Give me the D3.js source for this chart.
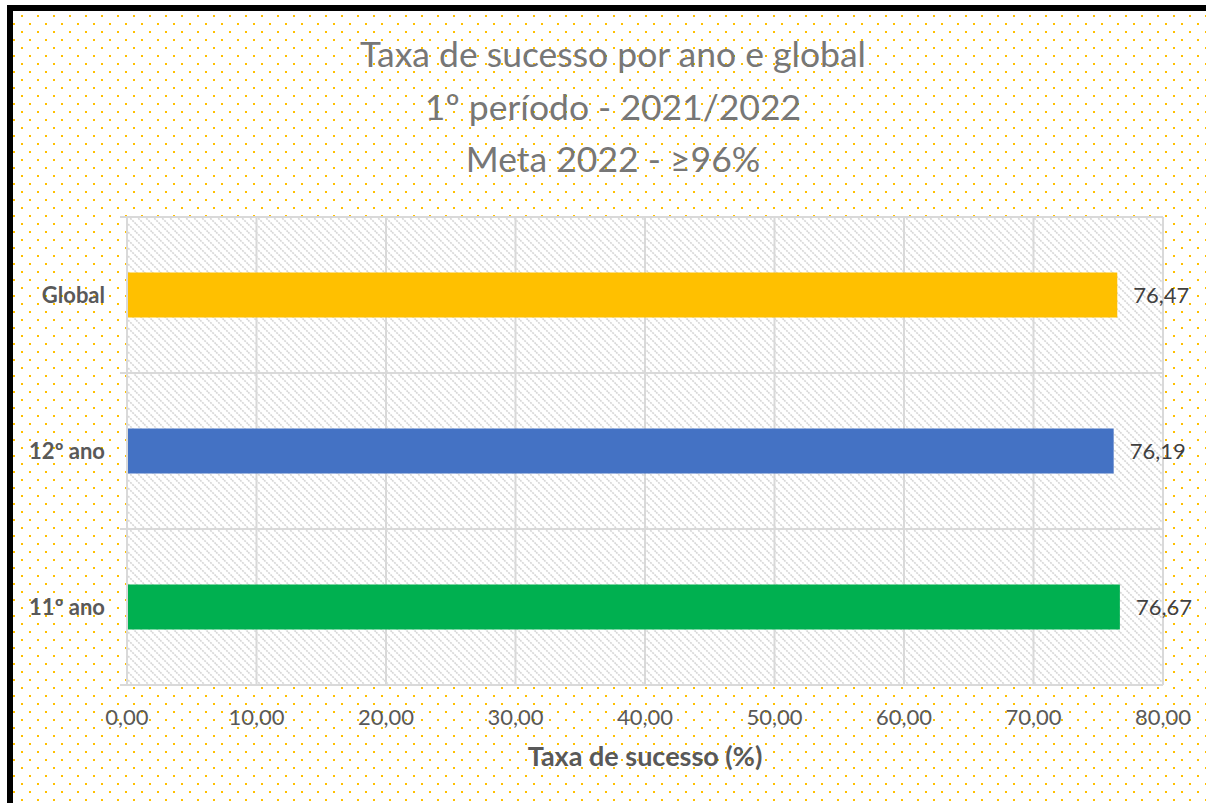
<!DOCTYPE html>
<html>
<head>
<meta charset="utf-8">
<script src="https://cdn.jsdelivr.net/npm/d3@7"></script>
<style>
  html, body { margin: 0; padding: 0; background: #fff; }
  svg { display: block; font-family: Lato, "Open Sans", sans-serif; }
</style>
</head>
<body>
<svg id="chart" width="1206" height="803"></svg>
<script>
// data
const categories = ["Global", "12º ano", "11º ano"];
const values = [76.47, 76.19, 76.67];
const barColors = ["#FFC000", "#4472C4", "#00B050"];
const xTicks = [0, 10, 20, 30, 40, 50, 60, 70, 80];
const titleLines = ["Taxa de sucesso por ano e global", "1º período - 2021/2022", "Meta 2022 -  \u226596%"];
const xAxisTitle = "Taxa de sucesso (%)";

const width = 1206, height = 803;
const plot = { left: 127, right: 1163, top: 217, bottom: 685 };

const svg = d3.select("#chart");
const defs = svg.append("defs");

// dotted background pattern
const dots = defs.append("pattern")
  .attr("id", "dots")
  .attr("patternUnits", "userSpaceOnUse")
  .attr("width", 16).attr("height", 16)
  .attr("x", 5).attr("y", 15);
dots.append("rect").attr("x", 0).attr("y", 0).attr("width", 2).attr("height", 2).attr("fill", "#FFC000");
dots.append("rect").attr("x", 8).attr("y", 8).attr("width", 2).attr("height", 2).attr("fill", "#FFC000");

// diagonal hatch for plot area
const hatch = defs.append("pattern")
  .attr("id", "hatch")
  .attr("patternUnits", "userSpaceOnUse")
  .attr("width", 8).attr("height", 8);
hatch.append("rect").attr("width", 8).attr("height", 8).attr("fill", "#fff");
hatch.append("path")
  .attr("d", "M-2,-2 L10,10 M-2,6 L2,10 M6,-2 L10,2")
  .attr("stroke", "#d6d6d6")
  .attr("stroke-width", 1.6)
  .attr("stroke-dasharray", "2,1");

// background + frame
svg.append("rect").attr("x", 13).attr("y", 11).attr("width", width - 13).attr("height", height - 11)
  .attr("fill", "url(#dots)");
svg.append("rect").attr("x", 7).attr("y", 5).attr("width", width - 7).attr("height", 6).attr("fill", "#000");
svg.append("rect").attr("x", 7).attr("y", 5).attr("width", 6).attr("height", height - 5).attr("fill", "#000");

// scales
const x = d3.scaleLinear().domain([0, 80]).range([plot.left, plot.right]);
const y = d3.scaleBand().domain(categories).range([plot.top, plot.bottom])
  .paddingInner(0.7115).paddingOuter(0.3558);

const locale = d3.formatLocale({ decimal: ",", thousands: ".", grouping: [3], currency: ["", "€"] });
const fmt = locale.format(".2f");

// plot area
svg.append("rect")
  .attr("x", plot.left).attr("y", plot.top)
  .attr("width", plot.right - plot.left).attr("height", plot.bottom - plot.top)
  .attr("fill", "url(#hatch)");

// vertical gridlines
svg.append("g").selectAll("line")
  .data(xTicks)
  .join("line")
  .attr("x1", d => x(d)).attr("x2", d => x(d))
  .attr("y1", plot.top).attr("y2", plot.bottom)
  .attr("stroke", "#d9d9d9").attr("stroke-width", 2);

// horizontal lines at category boundaries (with outward ticks)
const bounds = d3.range(categories.length + 1).map(i => plot.top + i * y.step());
svg.append("g").selectAll("line")
  .data(bounds)
  .join("line")
  .attr("x1", plot.left - 7).attr("x2", plot.right)
  .attr("y1", d => d).attr("y2", d => d)
  .attr("stroke", "#d9d9d9").attr("stroke-width", 2);

// bars
svg.append("g").selectAll("rect")
  .data(categories)
  .join("rect")
  .attr("x", x(0) + 1)
  .attr("y", d => y(d))
  .attr("width", (d, i) => x(values[i]) - x(0) - 1)
  .attr("height", y.bandwidth())
  .attr("fill", (d, i) => barColors[i]);

// value labels
svg.append("g").selectAll("text")
  .data(categories)
  .join("text")
  .attr("x", (d, i) => x(values[i]) + 16)
  .attr("y", d => y(d) + y.bandwidth() / 2)
  .attr("dy", "0.35em")
  .attr("font-size", 22)
  .attr("fill", "#404040")
  .text((d, i) => fmt(values[i]));

// category labels
svg.append("g").selectAll("text")
  .data(categories)
  .join("text")
  .attr("x", 105)
  .attr("y", d => y(d) + y.bandwidth() / 2)
  .attr("dy", "0.35em")
  .attr("text-anchor", "end")
  .attr("font-size", 22)
  .attr("font-weight", "bold")
  .attr("fill", "#595959")
  .text(d => d);

// x tick labels
svg.append("g").selectAll("text")
  .data(xTicks)
  .join("text")
  .attr("x", d => x(d))
  .attr("y", 725)
  .attr("text-anchor", "middle")
  .attr("font-size", 22)
  .attr("fill", "#595959")
  .text(d => fmt(d));

// axis title
svg.append("text")
  .attr("x", (plot.left + plot.right) / 2)
  .attr("y", 766)
  .attr("text-anchor", "middle")
  .attr("font-size", 27)
  .attr("font-weight", "bold")
  .attr("fill", "#595959")
  .text(xAxisTitle);

// title
svg.append("g").selectAll("text")
  .data(titleLines)
  .join("text")
  .attr("x", 613)
  .attr("y", (d, i) => 67 + i * 52.5)
  .attr("text-anchor", "middle")
  .attr("font-size", 35.5)
  .attr("fill", "#777777")
  .text(d => d);
</script>
</body>
</html>
